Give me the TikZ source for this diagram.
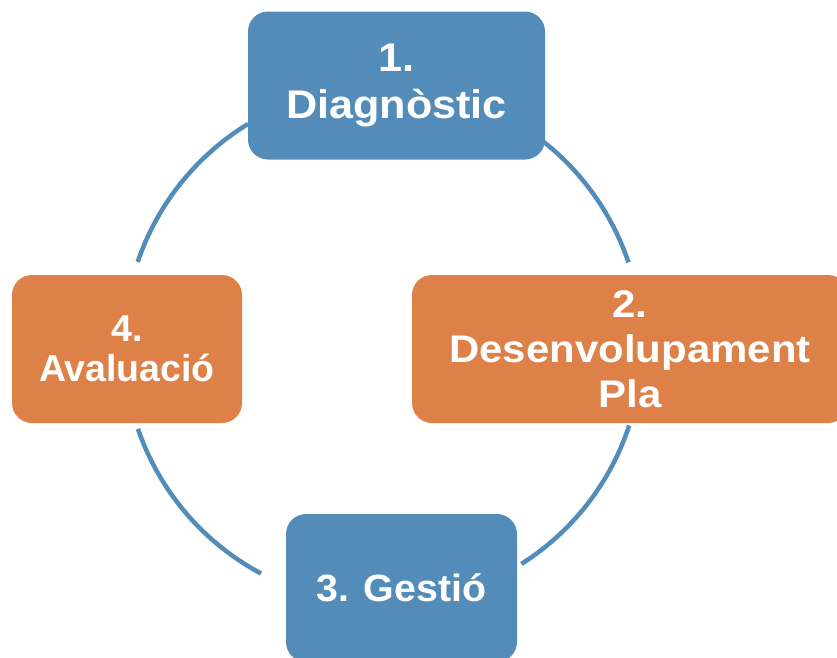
\documentclass[tikz,border=0pt]{standalone}
\usepackage{fontspec}
\newfontfamily\boxfont{Liberation Sans}
\definecolor{cycleblue}{RGB}{84,140,185}
\definecolor{cycleorange}{RGB}{222,129,72}

\begin{document}
\begin{tikzpicture}[x=1pt, y=1pt]
        \tikzset{
                basic/.style  = {rounded corners=20pt, inner sep=0pt, align=center, text=white,
                                minimum height=148pt},
                boxtext/.style n args = {3}{font=\boxfont\bfseries\addfontfeature{FakeStretch=#3}\fontsize{#1}{#2}\selectfont},
                blue box/.style   = {basic, fill=cycleblue},
                orange box/.style = {basic, fill=cycleorange},
                ring/.style   = {draw=cycleblue, line width=4.5pt}
        }
        \useasboundingbox (0,0) rectangle (837,-657);

        % centre of the cycle
        \coordinate (c) at (383,-345);

        % arcs of the cycle between the steps
        \foreach \a/\b in {121.4/161.3, 51.7/18.6, -18.1/-57.7, 241.9/198.9} {
                \draw[ring] ([shift={(\a:259)}]c) arc[start angle=\a, end angle=\b, radius=259];
        }

        % the four steps
        \node[blue box, boxtext={40}{46.5}{1.08}, minimum width=297pt] (diag) at (396.5,-85.5) {1.\\Diagnòstic};
        \node[orange box, boxtext={38.5}{44.8}{1.09}, minimum width=436pt] (pla) at (630,-349) {2.\\Desenvolupament\\Pla};
        \node[blue box, boxtext={38}{44}{1.035}, minimum width=231pt] (gest) at (401.5,-588) {3. Gestió};
        \node[orange box, boxtext={37.5}{40}{1.0}, minimum width=230pt] (aval) at (127,-349) {4.\\Avaluació};
\end{tikzpicture}
\end{document}
